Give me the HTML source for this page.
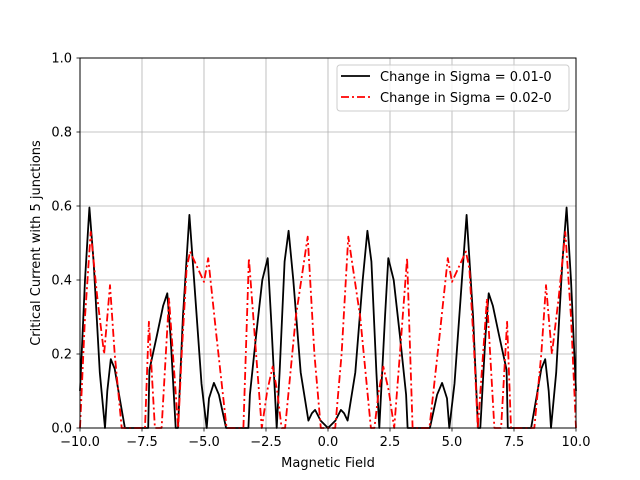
<!DOCTYPE html>
<html><head><meta charset="utf-8"><style>
body{margin:0;background:#fff}
svg{display:block;font-family:"DejaVu Sans","Liberation Sans",sans-serif}
</style></head><body>
<svg id="chart" width="640" height="480">
<rect width="640" height="480" fill="#fff"/>
<g id="grid"></g>
<g id="series"></g>
<rect x="80" y="58" width="496" height="370" fill="none" stroke="#000" stroke-width="1"/>
<g id="ticks"></g>
<text x="328" y="467" font-size="13" text-anchor="middle">Magnetic Field</text>
<text transform="translate(40,243) rotate(-90)" font-size="13" text-anchor="middle">Critical Current with 5 junctions</text>
<g>
<rect x="337" y="65" width="232" height="46" rx="3" fill="#fff" fill-opacity="0.8" stroke="#ccc"/>
<line x1="341" y1="76" x2="370" y2="76" stroke="#000" stroke-width="1.7"/>
<text x="380" y="81" font-size="13">Change in Sigma = 0.01-0</text>
<line x1="341" y1="97" x2="370" y2="97" stroke="#f00" stroke-width="1.7" stroke-dasharray="8,3,2,3"/>
<text x="380" y="102" font-size="13">Change in Sigma = 0.02-0</text>
</g>
</svg>
<script>
const xTicks=[-10,-7.5,-5,-2.5,0,2.5,5,7.5,10];
const xTickLabels=["\u221210.0","\u22127.5","\u22125.0","\u22122.5","0.0","2.5","5.0","7.5","10.0"];
const yTicks=[0,0.2,0.4,0.6,0.8,1.0];
const yTickLabels=["0.0","0.2","0.4","0.6","0.8","1.0"];
const blackX=[-10,-9.8,-9.62,-9.45,-9.2,-8.99,-8.9,-8.76,-8.6,-8.4,-8.19,-7.25,-7.2,-6.9,-6.65,-6.48,-6.35,-6.14,-6.05,-5.85,-5.59,-5.4,-5.1,-4.89,-4.8,-4.6,-4.4,-4.11,-3.21,-3.15,-2.9,-2.65,-2.43,-2.3,-2.07,-1.95,-1.75,-1.59,-1.4,-1.1,-0.79,-0.65,-0.52,-0.3,0,
0.3,0.52,0.65,0.79,1.1,1.4,1.59,1.75,1.95,2.07,2.3,2.43,2.65,2.9,3.15,3.21,4.11,4.4,4.6,4.8,4.89,5.1,5.4,5.59,5.85,6.05,6.14,6.35,6.48,6.65,6.9,7.2,7.25,8.19,8.4,8.6,8.76,8.9,8.99,9.2,9.45,9.62,9.8,10];
const blackY=[0.1,0.4,0.596,0.45,0.15,0,0.1,0.186,0.16,0.08,0,0,0.157,0.25,0.33,0.364,0.25,0,0,0.3,0.576,0.4,0.12,0,0.08,0.122,0.09,0,0,0.09,0.25,0.4,0.459,0.3,0,0.15,0.45,0.533,0.4,0.15,0.02,0.04,0.049,0.02,0,
0.02,0.049,0.04,0.02,0.15,0.4,0.533,0.45,0.15,0,0.3,0.459,0.4,0.25,0.09,0,0,0.09,0.122,0.08,0,0.12,0.4,0.576,0.3,0,0,0.25,0.364,0.33,0.25,0.157,0,0,0.08,0.16,0.186,0.1,0,0.15,0.45,0.596,0.4,0.1];
const redX=[-10,-9.8,-9.57,-9.3,-9.03,-8.9,-8.79,-8.6,-8.32,-7.38,-7.22,-6.98,-6.71,-6.41,-6.04,-5.9,-5.7,-5.56,-5.0,-4.83,-4.5,-4.09,-3.41,-3.19,-2.9,-2.67,-2.45,-2.23,-2.05,-1.87,-1.73,-1.3,-0.82,-0.55,-0.29,0,
0.29,0.55,0.82,1.3,1.73,1.87,2.05,2.23,2.45,2.67,2.9,3.19,3.41,4.09,4.5,4.83,5.0,5.56,5.7,5.9,6.04,6.41,6.71,6.98,7.22,7.38,8.32,8.6,8.79,8.9,9.03,9.3,9.57,9.8,10];
const redY=[0,0.3,0.53,0.35,0.2,0.3,0.386,0.2,0,0,0.287,0,0,0.35,0,0.2,0.43,0.477,0.395,0.459,0.25,0,0,0.459,0.2,0,0.1,0.166,0.1,0,0,0.3,0.517,0.2,0,0,
0,0.2,0.517,0.3,0,0,0.1,0.166,0.1,0,0.2,0.459,0,0,0.25,0.459,0.395,0.477,0.43,0.2,0,0.35,0,0,0.287,0,0,0.2,0.386,0.3,0.2,0.35,0.53,0.3,0];
const NS="http://www.w3.org/2000/svg";
const sx=v=>80+(v+10)/20*496;
const sy=v=>428-v*370;
const grid=document.getElementById('grid'),ticks=document.getElementById('ticks'),ser=document.getElementById('series');
function mk(tag,attrs,parent){const e=document.createElementNS(NS,tag);for(const k in attrs)e.setAttribute(k,attrs[k]);parent.appendChild(e);return e;}
xTicks.forEach((t,i)=>{
 const g=mk('line',{x1:sx(t),x2:sx(t),y1:58,y2:428,stroke:'#b0b0b0','stroke-width':0.8},grid);
 
 
 const tk=mk('line',{x1:sx(t),x2:sx(t),y1:428,y2:431.5,stroke:'#000','stroke-width':0.8},ticks);
 
 
 const tx=mk('text',{x:sx(t),y:446,'font-size':13,'text-anchor':'middle'},ticks);
 tx.textContent=xTickLabels[i];
 
 
});
yTicks.forEach((t,i)=>{
 const g=mk('line',{x1:80,x2:576,y1:sy(t),y2:sy(t),stroke:'#b0b0b0','stroke-width':0.8},grid);
 
 
 const tk=mk('line',{x1:76.5,x2:80,y1:sy(t),y2:sy(t),stroke:'#000','stroke-width':0.8},ticks);
 
 
 const tx=mk('text',{x:72,y:sy(t)+4.5,'font-size':13,'text-anchor':'end'},ticks);
 tx.textContent=yTickLabels[i];
 
 
});
function pts(xs,ys){return xs.map((x,i)=>sx(x).toFixed(1)+','+sy(ys[i]).toFixed(1)).join(' ');}
const bl=mk('polyline',{points:pts(blackX,blackY),fill:'none',stroke:'#000','stroke-width':1.8,'stroke-linejoin':'round'},ser);


const rl=mk('polyline',{points:pts(redX,redY),fill:'none',stroke:'#f00','stroke-width':1.8,'stroke-dasharray':'8,3,2,3','stroke-linejoin':'round'},ser);


</script>
</body></html>
